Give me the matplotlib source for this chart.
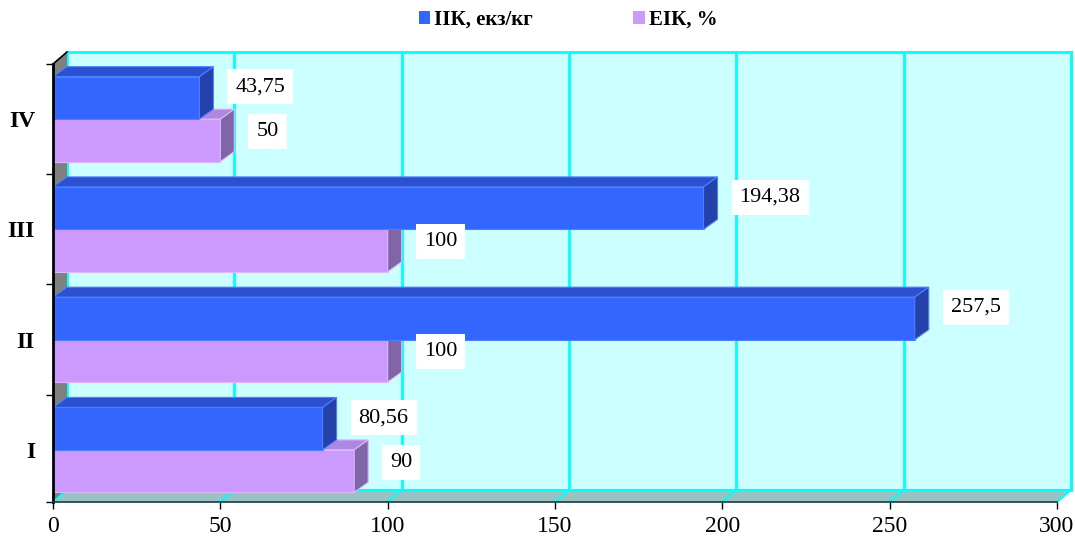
import matplotlib
matplotlib.use("Agg")
import matplotlib.pyplot as plt
from matplotlib.patches import Polygon, Patch

# data
categories = ['I', 'II', 'III', 'IV']
iik_values = [80.56, 257.5, 194.38, 43.75]
eik_values = [90, 100, 100, 50]
iik_labels = ['80,56', '257,5', '194,38', '43,75']
eik_labels = ['90', '100', '100', '50']
series_names = ['ІІК, екз/кг', 'ЕІК, %']
x_ticks = [0, 50, 100, 150, 200, 250, 300]

plt.rcParams['font.family'] = ['Liberation Serif', 'DejaVu Serif']

W, H = 1075, 542
fig = plt.figure(figsize=(W / 100, H / 100), dpi=100)
ax = fig.add_axes([53 / W, 40 / H, 1004 / W, 438 / H])
y0, y1 = -0.473, 3.5
ax.set_xlim(0, 300)
ax.set_ylim(y0, y1)

# depth offsets, converted from pixels to data units
px_x = 1004 / 300
px_y = 438 / (y1 - y0)
wdx, wdy = 14 / px_x, 12 / px_y
bdx, bdy = 14 / px_x, 10 / px_y
bar_h = 0.385

cyan = '#00FFFF'

# back wall, floor and left wall
ax.add_patch(Polygon([(wdx, y0 + wdy), (300 + wdx, y0 + wdy),
                      (300 + wdx, y1 + wdy), (wdx, y1 + wdy)],
                     closed=True, fc='#CCFFFF', ec=cyan, lw=2,
                     zorder=0, clip_on=False))
ax.add_patch(Polygon([(0, y0), (300, y0), (300 + wdx, y0 + wdy), (wdx, y0 + wdy)],
                     closed=True, fc='#99C2C2', ec='none', zorder=1, clip_on=False))
ax.add_patch(Polygon([(0, y0), (wdx, y0 + wdy), (wdx, y1 + wdy), (0, y1)],
                     closed=True, fc='#808080', ec='none', zorder=1, clip_on=False))
ax.plot([0, wdx], [y1, y1 + wdy], color='black', lw=1.2, zorder=2, clip_on=False)
ax.plot([wdx, 300 + wdx], [y0 + wdy, y0 + wdy], color=cyan, lw=1.5, zorder=2, clip_on=False)

for t in x_ticks[1:]:
    ax.plot([t + wdx, t + wdx], [y0 + wdy, y1 + wdy], color=cyan, lw=2,
            zorder=0.5, clip_on=False)
for t in x_ticks:
    ax.plot([t, t + wdx], [y0, y0 + wdy], color=cyan, lw=1.5, zorder=2, clip_on=False)


def draw_bar(y_bottom, value, front, top, side, edge, z):
    y_top = y_bottom + bar_h
    ax.barh(y_bottom + bar_h / 2, value, height=bar_h, color=front,
            edgecolor=edge, linewidth=0.8, zorder=z)
    ax.add_patch(Polygon([(0, y_top), (value, y_top), (value + bdx, y_top + bdy),
                          (bdx, y_top + bdy)], closed=True, fc=top, ec=edge,
                         lw=0.8, zorder=z, clip_on=False))
    ax.add_patch(Polygon([(value, y_bottom), (value + bdx, y_bottom + bdy),
                          (value + bdx, y_top + bdy), (value, y_top)], closed=True,
                         fc=side, ec=edge, lw=0.8, zorder=z, clip_on=False))


label_style = dict(textcoords='offset pixels', ha='left', va='center', fontsize=16,
                   bbox=dict(boxstyle='square,pad=0.36', fc='white', ec='none'),
                   zorder=8)

for i in range(len(categories)):
    draw_bar(i - bar_h, eik_values[i], '#CC99FF', '#AE88E0', '#8066A6', '#DDB8FF', 3)
    draw_bar(i, iik_values[i], '#3366FF', '#2B50D0', '#2341A8', '#4D80FF', 4)
    ax.annotate(iik_labels[i], xy=(iik_values[i], i + bar_h / 2),
                xytext=(36, 11), **label_style)
    ax.annotate(eik_labels[i], xy=(eik_values[i], i - bar_h / 2),
                xytext=(36, 9), **label_style)

# axes
for s in ['top', 'right']:
    ax.spines[s].set_visible(False)
ax.spines['left'].set_linewidth(2)
ax.spines['left'].set_zorder(6)
ax.spines['bottom'].set_color('#1A3A40')
ax.spines['bottom'].set_linewidth(1.2)
ax.spines['bottom'].set_zorder(6)

ax.set_xticks(x_ticks)
ax.set_xticklabels([str(t) for t in x_ticks], fontsize=17)
ax.tick_params(axis='x', length=5, width=1, pad=5)

ax.set_yticks(range(len(categories)))
ax.set_yticklabels(categories, fontsize=17, fontweight='bold')
ax.tick_params(axis='y', which='major', length=0, pad=13)
ax.set_yticks([y0, 0.5, 1.5, 2.5, 3.5], minor=True)
ax.tick_params(axis='y', which='minor', length=5, width=1)

fig.legend(handles=[Patch(fc='#3366FF'), Patch(fc='#CC99FF')], labels=series_names,
           loc='center', bbox_to_anchor=(568 / W, 1 - 20 / H), ncol=2, frameon=False,
           prop={'family': 'Liberation Serif', 'weight': 'bold', 'size': 15},
           handlelength=0.55, handleheight=0.55, handletextpad=0.2, columnspacing=4.8)

fig.savefig('out.png', dpi=100)
